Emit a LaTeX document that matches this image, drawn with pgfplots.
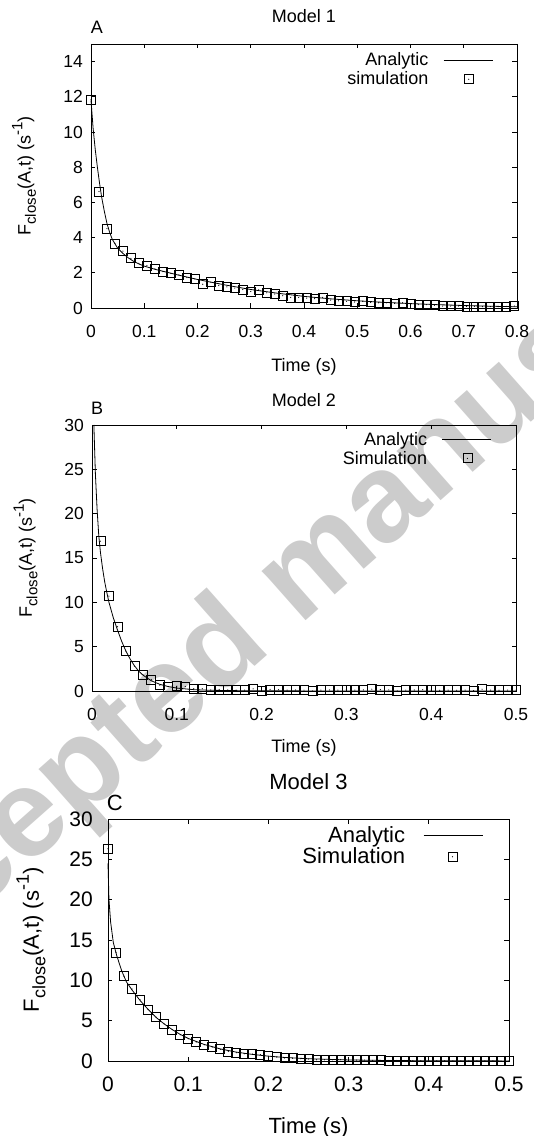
\documentclass[border=0pt]{standalone}
\usepackage{fontspec}
\setmainfont{Liberation Sans}
\usepackage{pgfplots}
\usepackage{pgfplotstable}
\pgfplotsset{compat=1.18}

\pgfdeclareplotmark{sqdot}{%
  \pgfpathrectangle{\pgfqpoint{-\pgfplotmarksize}{-\pgfplotmarksize}}{\pgfqpoint{2\pgfplotmarksize}{2\pgfplotmarksize}}%
  \pgfusepathqstroke
  \pgfpathcircle{\pgfpointorigin}{0.6pt}\pgfusepathqfill}

\newcommand{\fA}{\fontsize{18}{21}\selectfont}
\newcommand{\fAt}{\fontsize{17.5}{20}\selectfont}
\newcommand{\fC}{\fontsize{22}{26}\selectfont}
\newcommand{\fCt}{\fontsize{21}{24}\selectfont}
\newcommand{\ylab}[1]{F\raisebox{-0.3em}{\fontsize{#1}{#1}\selectfont close}(A,t) (s\raisebox{0.45em}{\fontsize{#1}{#1}\selectfont -1})}

% ---------- Model 1 ----------
\pgfplotstableread{
t v
0 11.84
0.015 6.62
0.03 4.51
0.045 3.67
0.06 3.23
0.075 2.82
0.09 2.54
0.105 2.41
0.12 2.22
0.135 2.07
0.15 1.97
0.165 1.88
0.18 1.73
0.195 1.65
0.21 1.35
0.225 1.47
0.24 1.28
0.255 1.20
0.27 1.13
0.285 1.05
0.30 0.94
0.315 1.03
0.33 0.86
0.345 0.79
0.36 0.70
0.375 0.60
0.39 0.60
0.405 0.56
0.42 0.53
0.435 0.60
0.45 0.45
0.465 0.41
0.48 0.38
0.495 0.34
0.51 0.38
0.525 0.32
0.54 0.30
0.555 0.30
0.57 0.26
0.585 0.30
0.60 0.23
0.615 0.19
0.63 0.19
0.645 0.15
0.66 0.11
0.675 0.11
0.69 0.11
0.705 0.09
0.72 0.09
0.735 0.08
0.75 0.08
0.765 0.08
0.78 0.09
0.795 0.11
}\simA
\pgfplotstableread{
t v
0 11.8
0.004 10.2
0.008 9.0
0.012 8.0
0.016 7.1
0.02 6.3
0.025 5.5
0.03 4.8
0.035 4.3
0.04 3.9
0.05 3.4
0.06 3.1
0.07 2.85
0.08 2.65
0.09 2.5
0.1 2.38
0.12 2.2
0.14 2.05
0.16 1.9
0.18 1.76
0.2 1.62
0.25 1.32
0.3 1.05
0.35 0.84
0.4 0.66
0.45 0.52
0.5 0.41
0.55 0.32
0.6 0.25
0.65 0.19
0.7 0.14
0.75 0.1
0.8 0.07
}\anaA
% ---------- Model 2 ----------
\pgfplotstableread{
t v
0.01 16.9
0.02 10.7
0.03 7.25
0.04 4.5
0.05 2.8
0.06 1.85
0.07 1.3
0.08 0.65
0.09 0.5
0.10 0.55
0.11 0.5
0.12 0.25
0.13 0.25
0.14 0.12
0.15 0.18
0.16 0.12
0.17 0.1
0.18 0.1
0.19 0.25
0.20 0.0
0.21 0.18
0.22 0.15
0.23 0.1
0.24 0.12
0.25 0.1
0.26 0.0
0.27 0.1
0.28 0.12
0.29 0.1
0.30 0.15
0.31 0.1
0.32 0.12
0.33 0.2
0.34 0.15
0.35 0.12
0.36 0.0
0.37 0.1
0.38 0.12
0.39 0.15
0.40 0.1
0.41 0.08
0.42 0.1
0.43 0.08
0.44 0.1
0.45 0.05
0.46 0.2
0.47 0.1
0.48 0.08
0.49 0.1
0.50 0.1
}\simB
\pgfplotstableread{
t v
0.0022 30
0.004 24.5
0.006 20.5
0.008 17.5
0.01 15.6
0.0125 13.8
0.015 12.3
0.0175 11.1
0.02 10.0
0.025 8.3
0.03 6.9
0.035 5.6
0.04 4.5
0.045 3.6
0.05 2.85
0.055 2.25
0.06 1.8
0.07 1.15
0.08 0.75
0.09 0.5
0.1 0.33
0.12 0.15
0.14 0.08
0.17 0.04
0.2 0.02
0.3 0.0
0.5 0.0
}\anaB
% ---------- Model 3 ----------
\pgfplotstableread{
t v
0 26.3
0.01 13.46
0.02 10.5
0.03 8.93
0.04 7.6
0.05 6.38
0.06 5.43
0.07 4.6
0.08 3.9
0.09 3.25
0.10 2.76
0.11 2.35
0.12 2.0
0.13 1.73
0.14 1.44
0.15 1.19
0.16 1.03
0.17 0.9
0.18 0.86
0.19 0.78
0.20 0.58
0.21 0.49
0.22 0.37
0.23 0.33
0.24 0.29
0.25 0.25
0.26 0.16
0.27 0.16
0.28 0.16
0.29 0.16
0.30 0.12
0.31 0.12
0.32 0.12
0.33 0.08
0.34 0.08
0.35 0.07
0.36 0.06
0.37 0.06
0.38 0.05
0.39 0.05
0.40 0.04
0.41 0.04
0.42 0.03
0.43 0.03
0.44 0.03
0.45 0.02
0.46 0.02
0.47 0.02
0.48 0.02
0.49 0.01
0.50 0.01
}\simC
\pgfplotstableread{
t v
0 24.5
0.0012 20
0.0033 17.2
0.0066 14.7
0.0108 13.1
0.017 11.2
0.023 9.8
0.03 8.8
0.04 7.5
0.05 6.4
0.06 5.4
0.07 4.6
0.08 3.9
0.09 3.3
0.1 2.8
0.12 2.05
0.14 1.5
0.16 1.1
0.18 0.82
0.2 0.6
0.22 0.44
0.25 0.28
0.3 0.13
0.35 0.06
0.4 0.03
0.5 0.01
}\anaC

\pgfplotsset{
  gp/.style={
    scale only axis, clip=false,
    axis line style={line width=0.8pt},
    every tick/.style={line width=0.8pt, black},
    major tick length=4.5pt,
    tick align=inside,
    xmin=0, ymin=0,
    /pgf/number format/assume math mode=true,
    /pgf/number format/fixed,
    xticklabel style={anchor=center, inner sep=0pt, yshift=-23pt},
    yticklabel style={anchor=east, inner sep=0pt},
    legend cell align=right,
    legend plot pos=right,
    legend style={draw=none, fill=none, inner sep=0pt, outer sep=0pt},
  },
  ana/.style={black, line width=0.8pt, mark=none},
  sim/.style={black, only marks, mark=sqdot, mark size=4.5pt, line width=0.8pt},
  analeg/.style={legend image code/.code={\draw[##1] (0pt,0pt) -- (#1,0pt);}},
  simleg/.style={legend image code/.code={\draw[##1] plot coordinates {(#1,0pt)};}},
}

\begin{document}
\begin{tikzpicture}
\useasboundingbox (0pt,0pt) rectangle (534pt,1136pt);
\begin{scope}
\clip (0pt,0pt) rectangle (534pt,1136pt);
\node[rotate=41.5, text=black!20, font=\fontsize{125}{125}\selectfont\bfseries] at (307pt,559pt) {Accepted manuscript};
\end{scope}

% ---------- A ----------
\begin{axis}[gp,
  at={(91pt,828pt)}, anchor=south west, width=426pt, height=264pt,
  xmax=0.8, ymax=15,
  xtick={0,0.1,...,0.8}, ytick={0,2,...,14},
  ticklabel style={font=\fAt},
  yticklabel style={xshift=-8pt},
  xlabel={Time (s)}, xlabel style={font=\fA, at={(axis description cs:0.5,-0.223)}, anchor=center},
  ylabel={\ylab{15}}, ylabel style={font=\fA, at={(axis description cs:-0.157,0.5)}, anchor=center},
  title={Model 1}, title style={font=\fA, at={(axis description cs:0.5,1.083)}, anchor=center},
  legend style={font=\fA, at={(axis description cs:0.944,0.974)}, anchor=north east,
    column sep=13pt, row sep=0.5pt},
]
\addplot[ana, analeg=49pt] table[x=t,y=v] {\anaA};
\addlegendentry{Analytic}
\addplot[sim, simleg=25pt] table[x=t,y=v] {\simA};
\addlegendentry{simulation}
\node[font=\fA] at (axis description cs:0.014,1.064) {A};
\end{axis}

% ---------- B ----------
\begin{axis}[gp,
  at={(92pt,445pt)}, anchor=south west, width=424pt, height=266pt,
  xmax=0.5, ymax=30,
  xtick={0,0.1,...,0.5}, ytick={0,5,...,30},
  ticklabel style={font=\fAt},
  yticklabel style={xshift=-8pt},
  xlabel={Time (s)}, xlabel style={font=\fA, at={(axis description cs:0.5,-0.214)}, anchor=center},
  ylabel={\ylab{15}}, ylabel style={font=\fA, at={(axis description cs:-0.157,0.5)}, anchor=center},
  title={Model 2}, title style={font=\fA, at={(axis description cs:0.5,1.072)}, anchor=center},
  legend style={font=\fA, at={(axis description cs:0.943,0.981)}, anchor=north east,
    column sep=13pt, row sep=0.5pt},
]
\addplot[ana, analeg=49pt] table[x=t,y=v] {\anaB};
\addlegendentry{Analytic}
\addplot[sim, simleg=25pt] table[x=t,y=v] {\simB};
\addlegendentry{Simulation}
\node[font=\fA] at (axis description cs:0.012,1.064) {B};
\end{axis}

% ---------- C ----------
\begin{axis}[gp,
  at={(108pt,75pt)}, anchor=south west, width=401pt, height=242pt,
  xmax=0.5, ymax=30,
  xtick={0,0.1,...,0.5}, ytick={0,5,...,30},
  ticklabel style={font=\fCt},
  yticklabel style={xshift=-15pt},
  xlabel={Time (s)}, xlabel style={font=\fC, at={(axis description cs:0.5,-0.276)}, anchor=center},
  ylabel={\ylab{18}}, ylabel style={font=\fC, at={(axis description cs:-0.192,0.5)}, anchor=center},
  title={Model 3}, title style={font=\fC, at={(axis description cs:0.5,1.128)}, anchor=center},
  legend style={font=\fC, at={(axis description cs:0.935,0.977)}, anchor=north east,
    column sep=16pt, row sep=0pt},
]
\addplot[ana, analeg=59pt] table[x=t,y=v] {\anaC};
\addlegendentry{Analytic}
\addplot[sim, simleg=29pt] table[x=t,y=v] {\simC};
\addlegendentry{Simulation}
\node[font=\fC] at (axis description cs:0.017,1.066) {C};
\end{axis}
\end{tikzpicture}
\end{document}
